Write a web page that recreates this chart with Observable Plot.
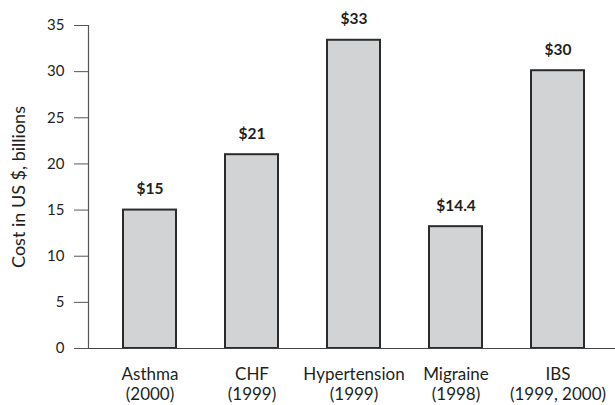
<!DOCTYPE html>
<html><head><meta charset="utf-8">
<script src="https://cdn.jsdelivr.net/npm/d3@7"></script>
<script src="https://cdn.jsdelivr.net/npm/@observablehq/plot@0.6"></script>
<style>body{margin:0;background:#fff}</style>
</head><body><div id="chart"></div>
<script>
const categories = ["Asthma", "CHF", "Hypertension", "Migraine", "IBS"];
const years = ["(2000)", "(1999)", "(1999)", "(1998)", "(1999, 2000)"];
const costs = [15, 21, 33.4, 13.2, 30.1];
const valueLabels = ["$15", "$21", "$33", "$14.4", "$30"];
const yTicks = [0, 5, 10, 15, 20, 25, 30, 35];
const yLabel = "Cost in US $, billions";

const data = categories.map((c, i) => ({category: c, year: years[i], cost: costs[i], label: valueLabels[i]}));
const ink = "#231f20";

const chart = Plot.plot({
  width: 615,
  height: 405,
  marginLeft: 88,
  marginRight: 0,
  marginTop: 25,
  marginBottom: 57,
  style: {fontFamily: "Lato, 'Open Sans', sans-serif", fontSize: "15px", color: ink, background: "#fff"},
  x: {domain: categories, range: [88, 620], paddingInner: 0.48, paddingOuter: 0.33, align: 0.5},
  y: {domain: [0, 35]},
  marks: [
    Plot.barY(data, {x: "category", y: "cost", fill: "#d1d3d4", stroke: "#2b2b2b", strokeWidth: 2}),
    Plot.ruleY([0], {stroke: "#444", strokeWidth: 1.2}),
    Plot.frame({anchor: "left", stroke: "#555", strokeWidth: 1.2}),
    Plot.axisY({ticks: yTicks, tickSize: 14, tickPadding: 10, label: null, stroke: "#555", fill: ink, fontSize: 15}),
    Plot.axisX({tickSize: 0, tickPadding: 17, label: null, fill: ink, fontSize: 17, lineHeight: 1.17,
      tickFormat: d => d + "\n" + years[categories.indexOf(d)]}),
    Plot.text(data, {x: "category", y: "cost", text: "label", dy: -21, fontWeight: "bold", fontSize: 15.5, fill: ink, lineAnchor: "middle"}),
    Plot.text([17.5], {y: d => d, text: () => yLabel, frameAnchor: "left", dx: -69, rotate: -90, textAnchor: "middle", lineAnchor: "middle", fontSize: 18, fill: ink})
  ]
});
document.getElementById("chart").appendChild(chart);
</script>
</body></html>
